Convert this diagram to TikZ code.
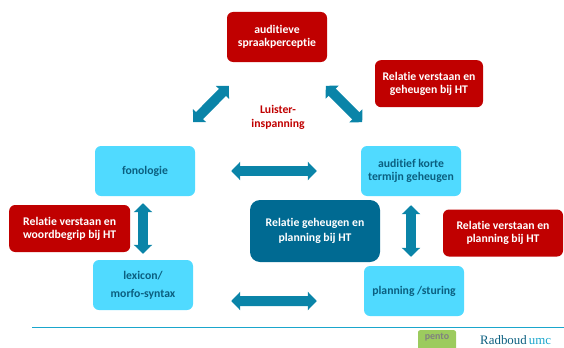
\documentclass[tikz,border=0pt]{standalone}
\usepackage{fontspec}
\setmainfont[Ligatures=NoCommon]{Carlito}
\newfontfamily\radfont{Liberation Serif}
\usepackage{tikz}
\usetikzlibrary{positioning}
\usetikzlibrary{arrows.meta}
\usetikzlibrary{calc}
\definecolor{rumcred}{HTML}{C00000}
\definecolor{rumccyan}{HTML}{50DAFF}
\definecolor{rumcdark}{HTML}{006A92}
\definecolor{rumcarrow}{HTML}{0A84A8}
\definecolor{rumcline}{HTML}{1AA6CC}
\definecolor{rumctext}{HTML}{0B5F80}
\definecolor{pentogreen}{HTML}{9CCB5E}
\tikzset{
  redbox/.style={fill=rumcred,rounded corners=0.18cm,text=white,font=\bfseries\fontsize{10}{11}\selectfont,align=center,inner sep=0pt},
  cyanbox/.style={fill=rumccyan,rounded corners=0.18cm,text=rumctext,font=\bfseries\fontsize{10}{11}\selectfont,align=center,inner sep=0pt,minimum width=3cm,minimum height=1.5cm},
  darkbox/.style={fill=rumcdark,rounded corners=0.3cm,text=white,font=\bfseries\fontsize{10}{12.5}\selectfont,align=center,inner sep=0pt},
  bigarrow/.style={rumcarrow,line width=0.3cm,{Triangle[length=0.27cm,width=0.54cm]}-{Triangle[length=0.27cm,width=0.54cm]}}
}
\begin{document}
\begin{tikzpicture}
\useasboundingbox (0,0) rectangle (16.92,10.41);
\node[redbox,minimum width=3cm,minimum height=1.5cm] (spraak) at (8.31,9.3) {auditieve\\spraakperceptie};
\node[redbox,minimum width=3.24cm,minimum height=1.41cm] (relgeh) at (12.87,7.9) {Relatie verstaan en\\geheugen bij HT};
\node[redbox,minimum width=3.63cm,minimum height=1.41cm] (relwoord) at (2.09,3.555) {Relatie verstaan en\\woordbegrip bij HT};
\node[redbox,minimum width=3.6cm,minimum height=1.41cm] (relplan) at (15.09,3.42) {Relatie verstaan en\\planning bij HT};
\node[cyanbox] (fono) at (4.35,5.28) {fonologie};
\node[cyanbox] (korte) at (12.33,5.28) {auditief korte\\termijn geheugen};
\node[cyanbox,font=\bfseries\fontsize{10}{15.5}\selectfont] (lexicon) at (4.29,1.86) {lexicon/\\morfo-syntax};
\node[cyanbox] (planning) at (12.42,1.68) {planning /sturing};
\node[darkbox,minimum width=3.9cm,minimum height=1.86cm] (relgp) at (9.45,3.48) {Relatie geheugen en\\planning bij HT};
\node[text=rumcred,font=\bfseries\fontsize{10}{12}\selectfont,align=center,inner sep=0pt] (luister) at (8.34,6.88) {Luister-\\inspanning};

\draw[bigarrow,shorten <=1cm,shorten >=1cm] (spraak) -- (fono);
\draw[bigarrow,shorten <=1cm,shorten >=1cm] (spraak) -- (korte);
\draw[bigarrow,shorten <=1.08cm,shorten >=1.32cm] (fono) -- (korte);
\draw[bigarrow,shorten <=0.21cm,shorten >=0.18cm] (fono.south -| lexicon.north) -- (lexicon.north);
\draw[bigarrow,shorten <=0.27cm,shorten >=0.27cm] (korte.south) -- (korte.south |- planning.north);
\draw[bigarrow,shorten <=1.14cm,shorten >=1.41cm] ($(lexicon.east)+(0,-0.48)$) -- ($(planning.west)+(0,-0.3)$);

\draw[rumcline,line width=0.8pt] (0.96,0.6) -- (16.92,0.6);
\node[fill=pentogreen,rounded corners=0.06cm,minimum width=1.14cm,text=black!50,font=\bfseries\fontsize{8.5}{9}\selectfont,inner xsep=0pt,inner ysep=0.1cm,text depth=0.3cm,anchor=north] (pento) at (13.11,0.51) {pento};
\node[text=rumctext,font=\radfont\fontsize{11}{12}\selectfont,inner sep=0pt] (radboud) at (15.47,0.2) {Radboud\,\textcolor{rumcline}{umc}};
\end{tikzpicture}
\end{document}
